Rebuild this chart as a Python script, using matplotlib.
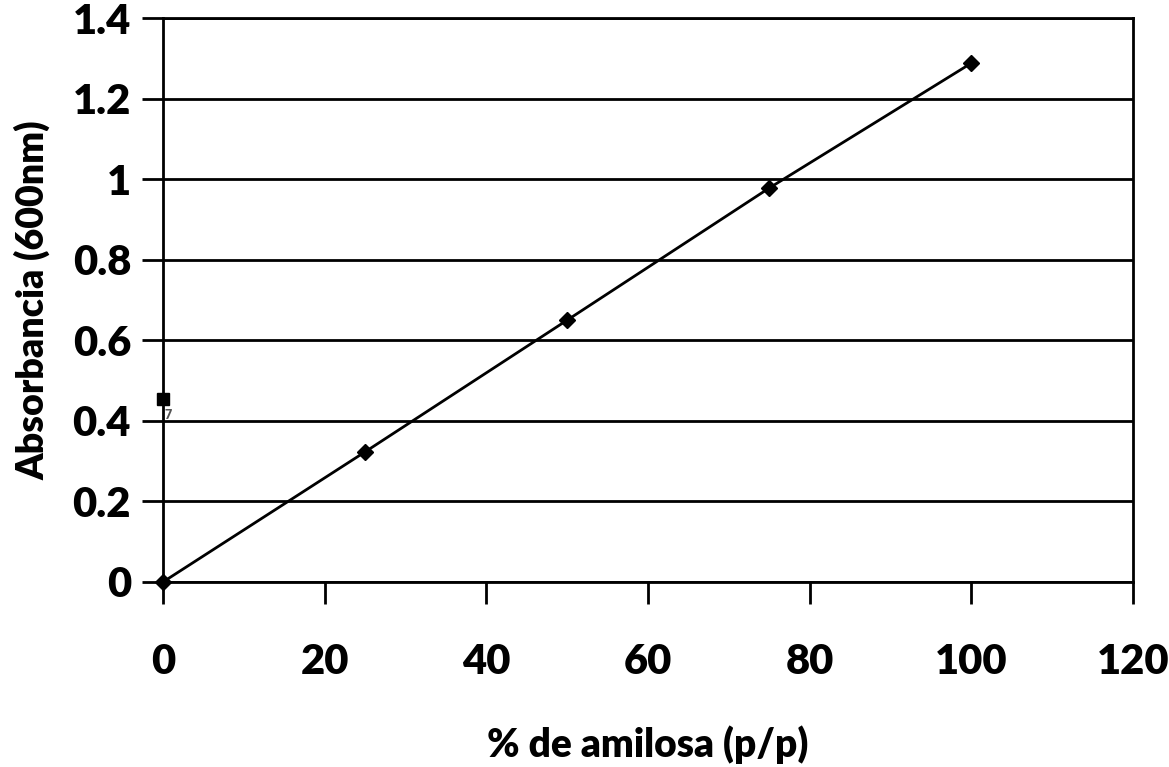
"""Curva de calibracion: absorbancia frente a % de amilosa."""

from matplotlib import pyplot as plt
import numpy as np

# Datos
amilosa = [0, 25, 50, 75, 100]                  # % de amilosa (p/p)
absorbancia = [0.0, 0.323, 0.650, 0.978, 1.288]  # Absorbancia a 600 nm

muestra_x = [0]        # punto suelto (cuadrado)
muestra_y = [0.455]

x_ticks = np.arange(0, 121, 20)
y_ticks = [0, 0.2, 0.4, 0.6, 0.8, 1, 1.2, 1.4]
y_tick_labels = ["0", "0.2", "0.4", "0.6", "0.8", "1", "1.2", "1.4"]

plt.rcParams['font.family'] = ['Lato', 'DejaVu Sans']
plt.rcParams['font.weight'] = 'heavy'

fig = plt.figure(figsize=(11.69, 7.67), dpi=100)
ax = fig.add_axes([0.1394, 0.2412, 0.8298, 0.7353])

ax.plot(amilosa, absorbancia, color='black', linewidth=2, marker='D',
        markersize=8, zorder=3, clip_on=False)
ax.plot(muestra_x, muestra_y, linestyle='none', color='black', marker='s',
        markersize=9, zorder=3, clip_on=False)
ax.text(muestra_x[0] + 0.6, muestra_y[0] - 0.025, "7", fontsize=9,
        color='#555555', ha='center', va='top')

ax.set_xlim(0, 120)
ax.set_ylim(0, 1.4)
ax.set_xticks(x_ticks)
ax.set_yticks(y_ticks)
ax.set_yticklabels(y_tick_labels)

ax.grid(axis='y', color='black', linewidth=2)
ax.set_axisbelow(True)
for side in ['left', 'right', 'bottom', 'top']:
    ax.spines[side].set_color('black')
    ax.spines[side].set_linewidth(2)

ax.tick_params(axis='x', direction='out', length=16, width=2, pad=28,
               labelsize=30)
ax.tick_params(axis='y', direction='out', length=15, width=2, pad=8,
               labelsize=30)

ax.set_xlabel("% de amilosa (p/p)", fontsize=28, fontweight='heavy', labelpad=32)
ax.set_ylabel("Absorbancia (600nm)", fontsize=27, fontweight='heavy', labelpad=16)

plt.savefig("out.png", dpi=100)
